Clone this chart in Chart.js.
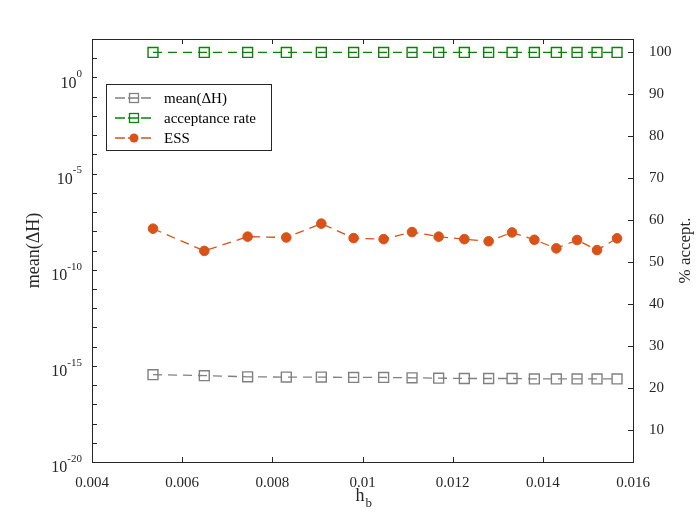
<!DOCTYPE html>
<html>
<head>
<meta charset="utf-8">
<script src="https://cdn.jsdelivr.net/npm/chart.js@4"></script>
<style>
  body { margin: 0; background: #fff; }
  #wrap { width: 700px; height: 525px; }
</style>
</head>
<body>
<div id="wrap"><canvas id="chart" width="700" height="525"></canvas></div>
<script>
// h_b values on the x axis
const hb = [0.005353, 0.006491, 0.007452, 0.008310, 0.009087, 0.009803, 0.010469, 0.011099, 0.011689,
            0.012259, 0.012798, 0.013317, 0.013812, 0.014300, 0.014759, 0.015202, 0.015646];
// left axis (log)
const meanDH = [3.5e-16, 3.1e-16, 2.7e-16, 2.6e-16, 2.6e-16, 2.5e-16, 2.5e-16, 2.4e-16, 2.3e-16,
                2.2e-16, 2.2e-16, 2.2e-16, 2.1e-16, 2.1e-16, 2.1e-16, 2.1e-16, 2.1e-16];
// right axis (%)
const accept = [100, 100, 100, 100, 100, 100, 100, 100, 100, 100, 100, 100, 100, 100, 100, 100, 100];
const ess = [58.0, 52.7, 56.1, 55.9, 59.2, 55.75, 55.5, 57.2, 56.1, 55.5, 55.0, 57.1, 55.35, 53.3, 55.3, 52.9, 55.7];

const xTicks = [0.004, 0.006, 0.008, 0.010, 0.012, 0.014, 0.016];
const leftExp = [-20, -15, -10, -5, 0];          // labelled decades
const rightTicks = [10, 20, 30, 40, 50, 60, 70, 80, 90, 100];
const labels = ['mean(\u0394H)', 'acceptance rate', 'ESS'];

const serif = '"Liberation Serif", "DejaVu Serif", serif';
const axisCol = '#262626';
const gray = 'rgb(128,128,128)';
const green = 'rgb(10,130,10)';
const orange = 'rgb(217,83,25)';

const pts = (ys) => hb.map((x, i) => ({x: x, y: ys[i]}));

// inward ticks, box, left labels, titles and legend
const decor = {
  id: 'decor',
  afterDraw(chart) {
    const c = chart.ctx;
    const a = chart.chartArea;
    const sx = chart.scales.x, sy = chart.scales.y, sy2 = chart.scales.y2;
    c.save();
    c.strokeStyle = axisCol;
    c.lineWidth = 1;
    c.strokeRect(Math.round(a.left) + 0.5, Math.round(a.top) + 0.5,
                 Math.round(a.right - a.left), Math.round(a.bottom - a.top));
    c.beginPath();
    sx.ticks.forEach(t => {
      const px = Math.round(sx.getPixelForValue(t.value)) + 0.5;
      c.moveTo(px, a.bottom); c.lineTo(px, a.bottom - 5);
      c.moveTo(px, a.top); c.lineTo(px, a.top + 5);
    });
    sy.ticks.forEach(t => {
      const py = Math.round(sy.getPixelForValue(t.value)) + 0.5;
      c.moveTo(a.left, py); c.lineTo(a.left + 5, py);
    });
    sy2.ticks.forEach(t => {
      const py = Math.round(sy2.getPixelForValue(t.value)) + 0.5;
      c.moveTo(a.right, py); c.lineTo(a.right - 5, py);
    });
    c.stroke();

    // left labels 10^k
    c.fillStyle = axisCol;
    c.textBaseline = 'middle';
    c.textAlign = 'right';
    leftExp.forEach(k => {
      const py = sy.getPixelForValue(Math.pow(10, k));
      const e = String(k);
      c.font = '11px ' + serif;
      const ew = c.measureText(e).width;
      const xr = a.left - 10;
      c.fillText(e, xr, py - 3);
      c.font = '16px ' + serif;
      c.fillText('10', xr - ew, py + 6);
    });

    // axis titles
    c.textAlign = 'center';
    c.font = '18px ' + serif;
    c.save();
    c.translate(34, (a.top + a.bottom) / 2);
    c.rotate(-Math.PI / 2);
    c.fillText('mean(\u0394H)', 0, 0);
    c.restore();
    c.save();
    c.translate(686, (a.top + a.bottom) / 2);
    c.rotate(-Math.PI / 2);
    c.font = '17px ' + serif;
    c.fillText('% accept.', 0, 0);
    c.restore();
    const cx = (a.left + a.right) / 2;
    c.font = '18px ' + serif;
    c.textAlign = 'right';
    c.fillText('h', cx + 2, a.bottom + 34);
    c.textAlign = 'left';
    c.font = '13px ' + serif;
    c.fillText('b', cx + 3, a.bottom + 42);

    // legend
    const lx = a.left + 14, ly = a.top + 45, lw = 165, lh = 66;
    c.fillStyle = '#fff';
    c.fillRect(lx, ly, lw, lh);
    c.strokeStyle = axisCol;
    c.strokeRect(lx + 0.5, ly + 0.5, lw, lh);
    chart.data.datasets.forEach((ds, i) => {
      const ry = ly + 14 + i * 20;
      c.strokeStyle = ds.borderColor;
      c.lineWidth = 1.3;
      c.setLineDash([10, 3]);
      c.beginPath();
      c.moveTo(lx + 9, ry); c.lineTo(lx + 46, ry);
      c.stroke();
      c.setLineDash([]);
      const mx = lx + 28;
      if (ds.pointStyle === 'rect') {
        c.strokeRect(mx - 4.5, ry - 4.5, 9, 9);
      } else {
        c.fillStyle = ds.borderColor;
        c.beginPath();
        c.arc(mx, ry, 4.5, 0, Math.PI * 2);
        c.fill();
      }
      c.fillStyle = '#000';
      c.font = '15px ' + serif;
      c.textAlign = 'left';
      c.fillText(ds.label, lx + 58, ry + 1);
    });
    c.restore();
  }
};

const common = {
  fill: false,
  tension: 0,
  borderWidth: 1.3,
  borderDash: [9, 6],
  pointBorderWidth: 1.4,
  pointBackgroundColor: 'rgba(0,0,0,0)'
};

new Chart(document.getElementById('chart'), {
  type: 'line',
  data: {
    datasets: [
      Object.assign({}, common, {
        label: labels[0], data: pts(meanDH), yAxisID: 'y',
        borderColor: gray, pointBorderColor: gray, pointStyle: 'rect', pointRadius: 7
      }),
      Object.assign({}, common, {
        label: labels[1], data: pts(accept), yAxisID: 'y2',
        borderColor: green, pointBorderColor: green, pointStyle: 'rect', pointRadius: 7
      }),
      Object.assign({}, common, {
        label: labels[2], data: pts(ess), yAxisID: 'y2',
        borderColor: orange, pointBorderColor: orange, pointBackgroundColor: orange,
        pointStyle: 'circle', pointRadius: 4.8, pointBorderWidth: 1
      })
    ]
  },
  options: {
    responsive: false,
    animation: false,
    layout: { padding: { top: 39, left: 0, right: 0, bottom: 0 } },
    plugins: { legend: { display: false }, tooltip: { enabled: false } },
    scales: {
      x: {
        type: 'linear', min: 0.004, max: 0.016,
        afterBuildTicks: s => { s.ticks = xTicks.map(v => ({value: v})); },
        afterFit: s => { s.height = 63; },
        grid: { display: false }, border: { display: false },
        ticks: {
          padding: 4, color: axisCol, font: { family: serif, size: 15 },
          maxRotation: 0, autoSkip: false,
          callback: v => String(+v.toFixed(4))
        }
      },
      y: {
        type: 'logarithmic', position: 'left', min: 1e-20, max: 1e2,
        afterBuildTicks: s => {
          const t = [];
          for (let k = -20; k <= 2; k++) t.push({value: Math.pow(10, k)});
          s.ticks = t;
        },
        afterFit: s => { s.width = 92; },
        grid: { display: false }, border: { display: false },
        ticks: { display: false }
      },
      y2: {
        type: 'linear', position: 'right', min: 2.4, max: 103.2,
        afterBuildTicks: s => { s.ticks = rightTicks.map(v => ({value: v})); },
        afterFit: s => { s.width = 67; },
        grid: { display: false }, border: { display: false },
        ticks: { padding: 8, color: axisCol, font: { family: serif, size: 15 } }
      }
    }
  },
  plugins: [decor]
});
</script>
</body>
</html>
